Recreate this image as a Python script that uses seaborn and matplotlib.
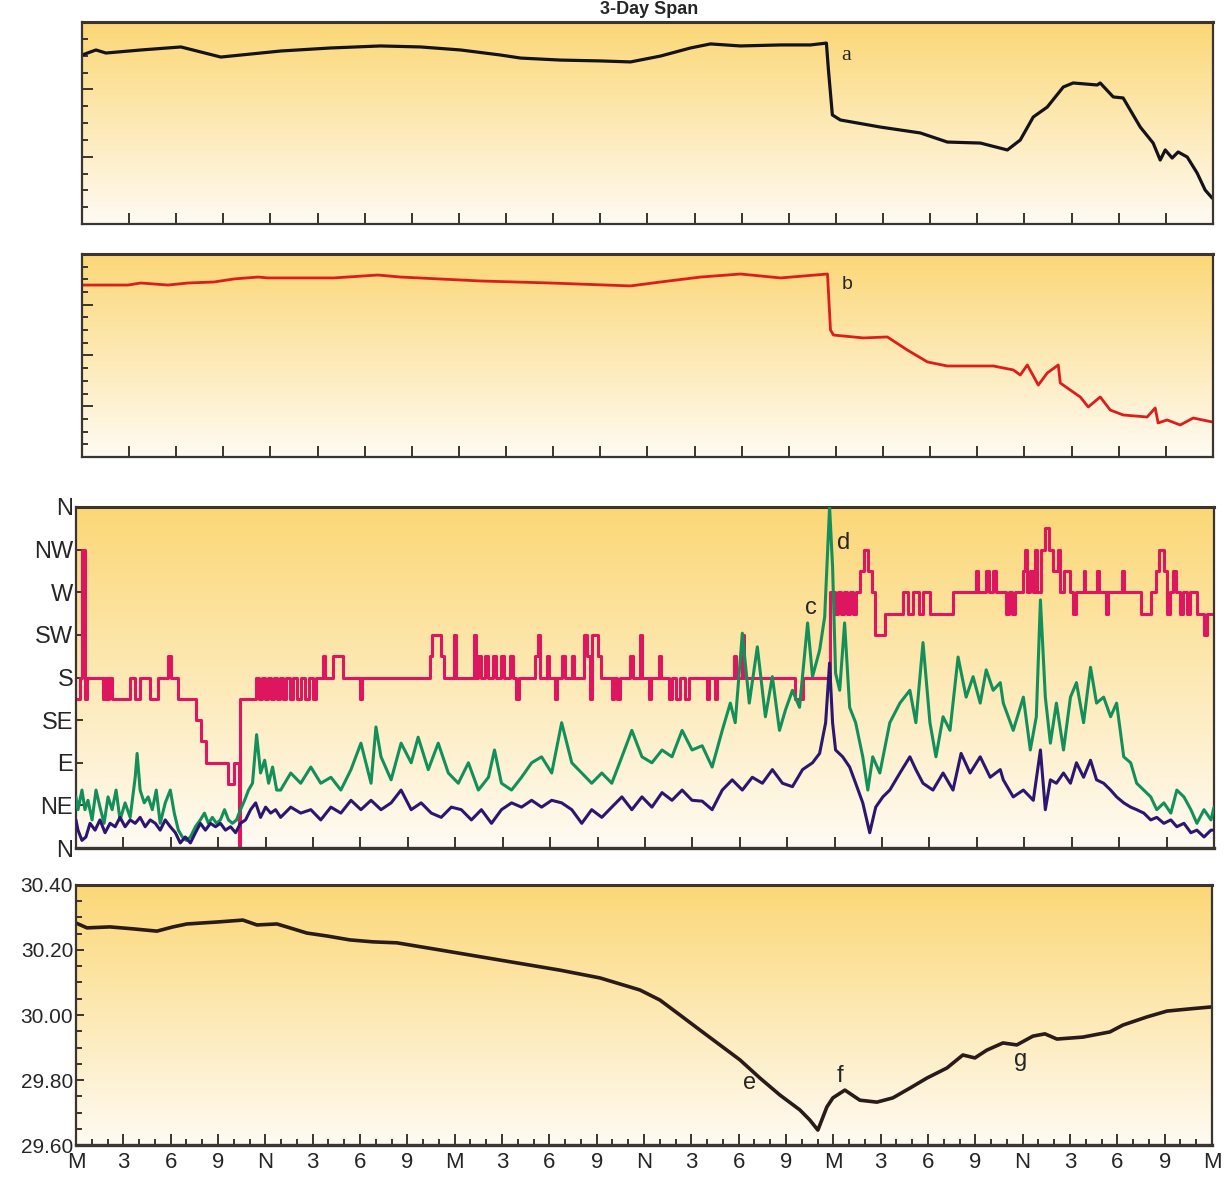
import numpy as np
import matplotlib
matplotlib.use('Agg')
import matplotlib.pyplot as plt
from matplotlib.ticker import MultipleLocator, NullFormatter
import seaborn as sns

# x axis: hours over the 3-day span, labelled every 3 h (M = midnight, N = noon)
hour_ticks = list(range(0, 73, 3))
hour_labels = ['M', '3', '6', '9', 'N', '3', '6', '9'] * 3 + ['M']
compass_ticks = [0, 45, 90, 135, 180, 225, 270, 315, 360]
compass_labels = ['N', 'NE', 'E', 'SE', 'S', 'SW', 'W', 'NW', 'N']

# panel a (black trace, unlabelled scale 0-12)
a_hours = [0.00, 0.89, 1.53, 3.75, 6.30, 7.57, 8.84, 10.11, 12.66, 15.84, 19.02, 21.56,
           24.11, 26.65, 27.93, 30.47, 33.02, 34.92, 36.83, 38.74, 40.01, 41.92, 44.47,
           46.37, 47.39, 47.52, 47.77, 48.28, 50.83, 53.37, 55.09, 57.19, 58.91, 59.73,
           60.56, 61.45, 62.47, 63.10, 64.63, 64.82, 65.65, 66.28, 67.37, 68.19, 68.64,
           68.96, 69.40, 69.78, 70.36, 70.99, 71.50, 71.95]
a_vals = [10.04, 10.34, 10.16, 10.34, 10.52, 10.22, 9.92, 10.04, 10.28, 10.46, 10.58, 10.52,
          10.34, 10.04, 9.86, 9.74, 9.69, 9.63, 9.98, 10.46, 10.70, 10.58, 10.64,
          10.64, 10.75, 9.15, 6.48, 6.18, 5.76, 5.41, 4.87, 4.81, 4.40, 4.99,
          6.36, 6.95, 8.14, 8.38, 8.26, 8.38, 7.55, 7.49, 5.76, 4.81, 3.80,
          4.40, 3.92, 4.28, 3.98, 3.03, 2.02, 1.54]

# panel b (red trace, unlabelled scale 0-16)
b_hours = [0.00, 2.93, 3.75, 5.47, 6.74, 8.40, 9.67, 11.20, 11.83, 13.93, 16.03, 18.83,
           20.29, 25.38, 29.83, 34.92, 36.83, 39.38, 41.92, 44.47, 47.46, 47.65, 47.84,
           49.75, 51.27, 52.54, 53.82, 55.09, 58.02, 59.29, 59.73, 60.18, 60.88, 61.45,
           62.15, 62.28, 62.91, 63.55, 64.06, 64.82, 65.46, 66.28, 67.81, 68.32, 68.51,
           69.08, 69.91, 70.74, 71.95]
b_vals = [13.55, 13.55, 13.71, 13.55, 13.71, 13.79, 14.03, 14.18, 14.11, 14.11, 14.11, 14.34,
          14.18, 13.87, 13.71, 13.48, 13.79, 14.18, 14.42, 14.11, 14.42, 10.01, 9.61,
          9.38, 9.46, 8.43, 7.49, 7.17, 7.17, 6.86, 6.46, 7.25, 5.67, 6.62,
          7.25, 5.83, 5.28, 4.73, 3.94, 4.73, 3.70, 3.31, 3.15, 3.86, 2.68,
          2.92, 2.52, 3.07, 2.76]

# panel c/d: wind direction (degrees, 16-point steps)
dir_hours = [0.00, 0.25, 0.38, 0.60, 0.70, 1.71, 1.84, 1.97, 2.10, 2.25, 3.43, 3.75, 4.06,
             4.70, 5.21, 5.84, 6.03, 6.48, 7.62, 7.94, 8.25, 9.65, 9.97, 10.29, 10.41,
             11.37, 11.56, 11.75, 11.94, 12.13, 12.32, 12.51, 12.70, 12.89, 13.08, 13.27,
             13.52, 13.71, 13.97, 14.22, 14.48, 14.73, 14.98, 15.17, 15.62, 15.75, 16.25,
             16.89, 17.97, 18.10, 22.41, 22.54, 23.11, 23.30, 23.94, 24.06, 25.21, 25.33,
             25.46, 25.65, 25.90, 26.10, 26.41, 26.60, 26.92, 27.11, 27.43, 27.62, 27.87,
             28.00, 29.02, 29.21, 29.33, 29.78, 29.90, 30.29, 30.41, 30.73, 30.92, 31.37,
             31.49, 32.13, 32.32, 32.51, 32.63, 33.02, 33.21, 33.90, 34.03, 34.22, 34.41,
             35.05, 35.24, 35.68, 35.81, 36.25, 36.38, 36.89, 37.02, 37.52, 37.71, 37.97,
             38.22, 38.54, 38.79, 39.94, 40.06, 40.44, 40.57, 41.65, 41.78, 42.16, 42.29,
             45.52, 45.97, 47.68, 48.00, 48.19, 48.38, 48.57, 48.76, 48.95, 49.14, 49.33,
             49.59, 49.84, 50.10, 50.35, 50.54, 51.17, 52.32, 52.63, 52.95, 53.33, 53.59,
             54.03, 55.49, 56.95, 57.08, 57.59, 57.78, 58.03, 58.22, 58.86, 59.05, 59.24,
             59.43, 59.94, 60.06, 60.19, 60.38, 60.57, 60.70, 60.83, 61.08, 61.33, 61.59,
             61.84, 62.16, 62.29, 62.48, 62.92, 63.11, 63.24, 63.75, 63.87, 64.57, 64.70,
             65.14, 65.27, 66.16, 66.29, 67.37, 68.00, 68.32, 68.51, 68.83, 69.02, 69.21,
             69.40, 69.59, 69.84, 70.03, 70.29, 70.48, 70.92, 71.37, 71.56, 72.00]
dir_deg = [157.5, 180, 315, 157.5, 180, 157.5, 180, 157.5, 180, 157.5, 180, 157.5, 180,
           157.5, 180, 202.5, 180, 157.5, 135, 112.5, 90, 67.5, 90, 0, 157.5,
           180, 157.5, 180, 157.5, 180, 157.5, 180, 157.5, 180, 157.5, 180,
           157.5, 180, 157.5, 180, 157.5, 180, 157.5, 180, 202.5, 180, 202.5,
           180, 157.5, 180, 202.5, 225, 202.5, 180, 225, 180, 225, 180,
           202.5, 180, 202.5, 180, 202.5, 180, 202.5, 180, 202.5, 180, 157.5,
           180, 202.5, 225, 180, 202.5, 180, 157.5, 180, 202.5, 180, 202.5,
           180, 225, 202.5, 157.5, 225, 202.5, 180, 157.5, 180, 157.5, 180,
           202.5, 180, 225, 180, 157.5, 180, 202.5, 180, 157.5, 180, 157.5,
           180, 157.5, 180, 157.5, 180, 157.5, 180, 202.5, 180, 225, 180,
           157.5, 180, 270, 247.5, 270, 247.5, 270, 247.5, 270, 247.5, 270,
           292.5, 315, 292.5, 270, 225, 247.5, 270, 247.5, 270, 247.5, 270,
           247.5, 270, 292.5, 270, 292.5, 270, 292.5, 270, 247.5, 270, 247.5,
           270, 292.5, 315, 270, 292.5, 270, 315, 270, 315, 337.5, 315,
           292.5, 315, 270, 292.5, 270, 247.5, 270, 292.5, 270, 292.5, 270,
           247.5, 270, 292.5, 270, 247.5, 270, 292.5, 315, 292.5, 247.5, 270,
           292.5, 270, 247.5, 270, 247.5, 270, 247.5, 225, 247.5, 247.5]

# wind gust (green) and sustained speed (purple), knots
gust_hours = [0.00, 0.13, 0.38, 0.57, 0.76, 1.02, 1.27, 1.52, 1.78, 2.03, 2.29, 2.54, 2.79,
              3.11, 3.43, 3.75, 3.87, 4.06, 4.32, 4.57, 4.83, 5.08, 5.33, 5.65, 5.97,
              6.22, 6.48, 6.73, 6.98, 7.24, 7.56, 7.87, 8.13, 8.38, 8.63, 8.89, 9.14,
              9.40, 9.65, 9.90, 10.16, 10.41, 10.67, 10.92, 11.17, 11.43, 11.68, 11.94,
              12.19, 12.44, 12.70, 12.95, 13.59, 14.22, 14.86, 15.49, 16.13, 16.76, 17.40,
              18.03, 18.67, 18.98, 19.30, 19.94, 20.57, 21.21, 21.65, 22.29, 22.92, 23.56,
              24.19, 24.83, 25.46, 26.10, 26.48, 26.92, 27.56, 28.19, 28.83, 29.46, 30.10,
              30.73, 31.37, 32.00, 32.63, 33.27, 33.90, 34.54, 35.17, 35.81, 36.44, 37.08,
              37.71, 38.35, 38.98, 39.62, 40.25, 40.89, 41.40, 41.71, 42.16, 42.60, 43.11,
              43.62, 44.06, 44.51, 44.89, 45.33, 45.78, 46.29, 46.60, 47.05, 47.37, 47.68,
              47.87, 48.06, 48.32, 48.63, 48.95, 49.33, 49.78, 50.10, 50.41, 50.86, 51.49,
              52.13, 52.76, 53.14, 53.59, 54.03, 54.41, 54.86, 55.30, 55.81, 56.32, 56.76,
              57.21, 57.59, 58.03, 58.48, 58.67, 59.30, 59.94, 60.38, 60.76, 61.02, 61.33,
              61.65, 62.03, 62.48, 62.92, 63.30, 63.75, 64.19, 64.57, 65.02, 65.46, 65.84,
              66.29, 66.73, 67.11, 67.56, 68.00, 68.38, 68.83, 69.27, 69.65, 70.10, 70.54,
              70.92, 71.37, 71.81, 72.00]
gust_kt = [6.0, 4.5, 6.8, 4.5, 5.6, 3.3, 6.8, 4.8, 2.9, 6.0, 4.5, 6.8, 3.3,
           5.3, 3.6, 8.3, 11.1, 6.8, 5.3, 6.0, 4.5, 6.8, 2.9, 5.3, 6.8,
           4.1, 2.1, 1.3, 0.9, 1.3, 2.5, 3.3, 4.1, 2.9, 3.6, 2.9, 3.3,
           4.5, 3.3, 2.9, 3.3, 4.5, 5.6, 6.8, 7.6, 13.3, 8.8, 10.3,
           7.6, 9.5, 6.8, 6.8, 8.8, 7.6, 9.5, 7.6, 8.3, 6.8, 9.2,
           12.3, 7.6, 14.2, 10.7, 8.0, 12.3, 10.0, 13.0, 9.2, 12.3, 8.8,
           7.6, 10.0, 6.8, 8.3, 11.5, 7.6, 6.8, 8.3, 10.0, 10.7, 8.8,
           14.7, 10.0, 8.8, 7.6, 8.8, 7.6, 10.7, 13.8, 10.7, 10.0, 11.5,
           10.7, 13.8, 11.5, 12.0, 9.5, 13.8, 17.0, 14.7, 25.2, 17.0, 23.6,
           15.4, 20.1, 13.8, 16.2, 18.5, 16.5, 26.4, 20.1, 23.2, 27.1, 40.0,
           33.0, 20.5, 18.5, 26.4, 16.5, 14.7, 10.7, 6.8, 10.7, 8.8, 14.7,
           17.0, 18.5, 14.7, 24.1, 14.7, 10.7, 15.4, 13.8, 22.4, 17.7, 20.1,
           17.0, 20.9, 18.5, 19.4, 17.0, 13.8, 17.7, 11.5, 15.4, 29.1, 17.7,
           12.3, 17.0, 11.5, 17.7, 19.4, 14.7, 21.2, 17.0, 17.7, 15.4, 17.0,
           10.7, 10.0, 7.6, 6.8, 6.0, 4.5, 5.3, 4.1, 6.8, 6.0, 4.5,
           2.9, 4.5, 3.3, 4.8]

speed_hours = [0.00, 0.13, 0.38, 0.63, 0.89, 1.21, 1.52, 1.84, 2.16, 2.48, 2.79, 3.11, 3.43,
               3.75, 4.06, 4.38, 4.70, 5.02, 5.33, 5.65, 5.97, 6.29, 6.60, 6.92, 7.24,
               7.56, 7.87, 8.19, 8.51, 8.83, 9.14, 9.46, 9.78, 10.10, 10.41, 10.73, 11.05,
               11.37, 11.68, 12.00, 12.32, 12.63, 12.95, 13.59, 14.22, 14.86, 15.49, 16.13,
               16.76, 17.40, 18.03, 18.67, 19.30, 19.94, 20.57, 21.21, 21.84, 22.48, 23.11,
               23.75, 24.38, 25.02, 25.65, 26.29, 26.92, 27.56, 28.19, 28.83, 29.46, 30.10,
               30.73, 31.37, 32.00, 32.63, 33.27, 33.90, 34.54, 35.17, 35.81, 36.44, 37.08,
               37.71, 38.35, 38.98, 39.62, 40.25, 40.89, 41.52, 42.16, 42.79, 43.43, 44.06,
               44.70, 45.33, 45.97, 46.60, 47.05, 47.43, 47.68, 47.87, 48.06, 48.51, 48.95,
               49.33, 49.78, 50.22, 50.60, 51.05, 51.49, 52.13, 52.76, 53.14, 53.59, 54.22,
               54.86, 55.49, 56.00, 56.57, 57.21, 57.84, 58.48, 58.67, 59.30, 59.94, 60.57,
               61.02, 61.33, 61.65, 62.03, 62.48, 62.92, 63.30, 63.75, 64.19, 64.57, 65.02,
               65.46, 65.84, 66.29, 66.73, 67.11, 67.56, 68.00, 68.38, 68.83, 69.27, 69.65,
               70.10, 70.54, 70.92, 71.37, 71.81, 72.00]
speed_kt = [3.3, 2.1, 0.9, 1.3, 2.9, 2.1, 3.3, 1.8, 2.9, 2.5, 3.6, 2.5, 3.3,
            2.9, 3.6, 2.5, 3.3, 2.9, 2.1, 3.3, 2.5, 1.8, 0.6, 1.3, 0.6,
            1.8, 2.9, 2.1, 2.9, 2.5, 2.9, 2.1, 2.5, 1.8, 2.9, 3.3, 4.5,
            5.3, 3.6, 4.8, 4.1, 4.5, 3.6, 4.8, 4.1, 4.5, 3.3, 4.8,
            4.1, 5.6, 4.5, 5.6, 4.5, 5.3, 6.8, 4.5, 5.3, 4.1, 3.6,
            4.8, 4.5, 3.3, 4.5, 2.9, 4.5, 5.3, 4.8, 5.6, 4.8, 5.6,
            5.3, 4.5, 2.9, 4.5, 3.6, 4.8, 6.0, 4.5, 6.0, 4.8, 6.5,
            5.6, 6.8, 5.6, 5.5, 4.5, 6.8, 8.0, 6.8, 8.3, 7.6, 9.2,
            7.6, 7.2, 9.2, 10.0, 11.1, 14.7, 21.7, 14.7, 11.5, 10.7, 9.5,
            7.6, 5.3, 1.8, 4.8, 6.0, 6.8, 8.8, 10.7, 9.2, 7.6, 6.8,
            8.8, 6.8, 11.1, 8.8, 10.7, 8.3, 9.2, 8.0, 6.0, 6.8, 5.6,
            11.5, 4.5, 8.0, 7.6, 8.8, 7.6, 10.0, 8.3, 10.3, 8.0, 7.6,
            6.8, 6.0, 5.3, 4.8, 4.5, 4.1, 3.3, 3.6, 2.9, 3.3, 2.5,
            2.9, 1.8, 2.1, 1.3, 2.1, 2.1]

# barometric pressure, inHg
p_hours = [0.00, 0.70, 2.15, 3.61, 5.13, 6.15, 7.03, 8.94, 10.58, 11.47, 12.74, 13.56,
           14.64, 15.91, 17.36, 18.82, 20.34, 23.07, 26.87, 30.67, 33.21, 35.74, 37.01,
           38.28, 39.54, 40.81, 42.08, 43.35, 44.61, 45.88, 46.51, 47.02, 47.59, 47.97,
           48.73, 49.68, 50.76, 51.77, 52.85, 53.93, 55.20, 56.21, 56.97, 57.73, 58.75,
           59.63, 60.65, 61.41, 62.17, 63.81, 65.53, 66.35, 67.87, 69.14, 70.41, 72.00]
p_inhg = [30.283, 30.268, 30.271, 30.265, 30.258, 30.271, 30.280, 30.286, 30.292, 30.277,
          30.280, 30.268, 30.252, 30.243, 30.231, 30.225, 30.222, 30.200, 30.169, 30.138,
          30.114, 30.077, 30.046, 30.000, 29.954, 29.908, 29.862, 29.806, 29.754, 29.708,
          29.677, 29.646, 29.717, 29.745, 29.769, 29.738, 29.732, 29.745, 29.775, 29.806,
          29.837, 29.877, 29.868, 29.892, 29.914, 29.908, 29.935, 29.942, 29.926, 29.932,
          29.948, 29.969, 29.994, 30.012, 30.018, 30.025]

sns.set_style('ticks')
plt.rcParams['font.family'] = ['Liberation Sans', 'DejaVu Sans']

edge = '#3b3530'
grad = np.linspace(0, 1, 256)[:, None, None]
top_col = np.array([251, 215, 118]) / 255.0
bot_col = np.array([255, 251, 243]) / 255.0
bg = top_col * (1 - grad) + bot_col * grad


def panel(rect):
    ax = fig.add_axes(rect)
    ax.imshow(bg, extent=[0, 1, 0, 1], transform=ax.transAxes, aspect='auto', zorder=0)
    for s in ['left', 'right', 'top', 'bottom']:
        ax.spines[s].set_color(edge)
        ax.spines[s].set_linewidth(1.6)
    ax.spines['top'].set_linewidth(2.2)
    ax.set_xlim(0, 72)
    ax.xaxis.set_major_locator(MultipleLocator(3))
    ax.xaxis.set_major_formatter(NullFormatter())
    ax.tick_params(axis='both', which='both', direction='in', color=edge, width=1.4,
                   top=False, right=False)
    ax.tick_params(axis='x', which='major', length=8)
    ax.set_xlabel('')
    ax.set_ylabel('')
    return ax


fig = plt.figure(figsize=(12.25, 11.79), dpi=100)

# panel a
ax1 = panel([0.0669, 0.8100, 0.9233, 0.1713])
sns.lineplot(x=a_hours, y=a_vals, ax=ax1, color='#14121a', linewidth=2.3, estimator=None, sort=False)
ax1.set_ylim(0, 12)
ax1.yaxis.set_major_locator(MultipleLocator(4))
ax1.yaxis.set_minor_locator(MultipleLocator(1))
ax1.yaxis.set_major_formatter(NullFormatter())
ax1.tick_params(axis='y', which='major', length=8)
ax1.tick_params(axis='y', which='minor', length=4)
ax1.set_xlim(0, 72)
ax1.text(48.35, 10.0, 'a', family='Liberation Serif', fontsize=16, va='center')

# panel b
ax2 = panel([0.0669, 0.6124, 0.9233, 0.1722])
sns.lineplot(x=b_hours, y=b_vals, ax=ax2, color='#dd1c1c', linewidth=2.0, estimator=None, sort=False)
ax2.set_ylim(0, 16)
ax2.yaxis.set_major_locator(MultipleLocator(4))
ax2.yaxis.set_minor_locator(MultipleLocator(1))
ax2.yaxis.set_major_formatter(NullFormatter())
ax2.tick_params(axis='y', which='major', length=8)
ax2.tick_params(axis='y', which='minor', length=4)
ax2.set_xlim(0, 72)
ax2.text(48.35, 13.6, 'b', fontsize=14, va='center')

# wind panel
ax3 = panel([0.0620, 0.2807, 0.9290, 0.2893])
sns.lineplot(x=dir_hours, y=dir_deg, ax=ax3, color='#de1660', linewidth=2.2,
             drawstyle='steps-post', estimator=None, sort=False)
ax3.set_ylim(0, 360)
ax3.set_yticks(compass_ticks)
ax3.set_yticklabels(compass_labels, fontsize=17)
ax3.tick_params(axis='y', which='major', length=5, pad=2)
ax3.spines['bottom'].set_linewidth(2.4)
ax3.set_xlim(0, 72)
ax3s = ax3.twinx()
sns.lineplot(x=gust_hours, y=gust_kt, ax=ax3s, color='#13905a', linewidth=2.2, estimator=None, sort=False)
sns.lineplot(x=speed_hours, y=speed_kt, ax=ax3s, color='#2b1670', linewidth=2.2, estimator=None, sort=False)
ax3s.set_ylim(0, 40)
ax3s.set_xlim(0, 72)
ax3s.set_yticks([])
ax3s.set_ylabel('')
for s in ax3s.spines.values():
    s.set_visible(False)
ax3s.text(46.5, 253, 'c', transform=ax3.transData, fontsize=17, va='center', ha='center')
ax3s.text(48.6, 322, 'd', transform=ax3.transData, fontsize=17, va='center', ha='center')

# pressure panel
ax4 = panel([0.0620, 0.0288, 0.9274, 0.2206])
sns.lineplot(x=p_hours, y=p_inhg, ax=ax4, color='#2a1a1a', linewidth=2.6, estimator=None, sort=False)
ax4.set_ylim(29.6, 30.4)
ax4.set_yticks([29.6, 29.8, 30.0, 30.2, 30.4])
ax4.set_yticklabels(['29.60', '29.80', '30.00', '30.20', '30.40'], fontsize=15)
ax4.yaxis.set_minor_locator(MultipleLocator(0.05))
ax4.set_xticks(hour_ticks)
ax4.set_xticklabels(hour_labels, fontsize=16)
ax4.xaxis.set_minor_locator(MultipleLocator(1))
ax4.tick_params(axis='x', which='major', length=8, pad=5)
ax4.tick_params(axis='x', which='minor', length=4)
ax4.tick_params(axis='y', which='major', length=6, pad=2)
ax4.tick_params(axis='y', which='minor', length=4)
ax4.spines['bottom'].set_linewidth(2.4)
ax4.set_xlim(0, 72)
ax4.text(42.7, 29.791, 'e', fontsize=17, ha='center', va='center')
ax4.text(48.4, 29.812, 'f', fontsize=17, ha='center', va='center')
ax4.text(59.9, 29.862, 'g', fontsize=17, ha='center', va='center')

fig.text(0.53, 1 - 9 / 1179, '3-Day Span', ha='center', va='center', fontsize=13, fontweight='bold')

plt.savefig('out.png', dpi=100)
